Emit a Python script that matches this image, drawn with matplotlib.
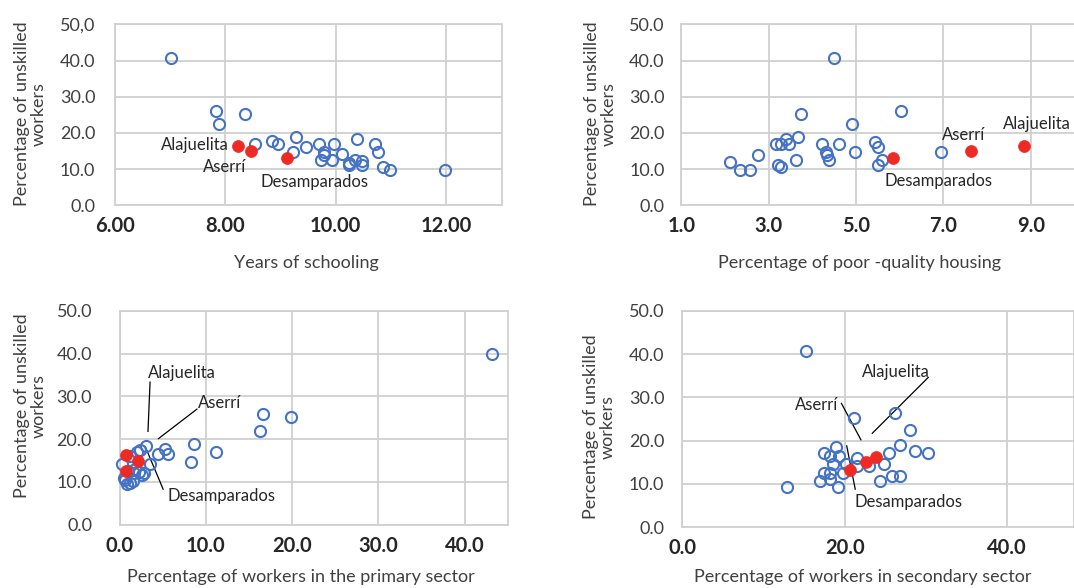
import matplotlib
matplotlib.use("Agg")
import matplotlib.pyplot as plt

# ---------------- data ----------------
# Panel 1: years of schooling
p1_x = [7.02, 7.84, 7.89, 8.36, 8.54, 8.85, 8.96, 9.23, 9.28, 9.46, 9.69, 9.78, 9.78, 9.74,
        9.93, 9.97, 10.11, 10.24, 10.34, 10.24, 10.39, 10.48, 10.48, 10.71, 10.76, 10.85, 10.98, 11.97]
p1_y = [40.8, 26.0, 22.5, 25.3, 16.9, 17.7, 16.9, 14.7, 19.0, 16.1, 16.9, 14.7, 14.0, 12.5,
        12.5, 16.9, 14.1, 11.6, 12.6, 11.1, 18.3, 12.1, 11.1, 16.9, 14.7, 10.5, 9.8, 9.8]
p1_red_x = [8.24, 8.47, 9.12]
p1_red_y = [16.5, 15.0, 13.0]

# Panel 2: poor-quality housing
p2_x = [2.11, 2.35, 2.57, 2.75, 3.16, 3.22, 3.28, 3.28, 3.39, 3.46, 3.62, 3.68, 3.74, 4.21,
        4.32, 4.33, 4.38, 4.50, 4.62, 4.90, 4.97, 5.44, 5.49, 5.49, 5.60, 6.02, 6.95]
p2_y = [11.9, 9.8, 9.8, 14.0, 16.8, 11.2, 10.5, 16.8, 18.2, 16.8, 12.5, 19.0, 25.3, 16.8,
        14.7, 14.0, 12.5, 40.8, 16.8, 22.5, 14.7, 17.6, 16.1, 11.2, 12.5, 26.0, 14.7]
p2_red_x = [8.84, 7.62, 5.85]
p2_red_y = [16.5, 15.0, 13.0]

# Panel 3: primary sector
p3_x = [0.2, 0.5, 0.6, 0.8, 1.2, 1.5, 1.0, 1.6, 2.2, 2.6, 1.8, 2.0, 2.4, 3.0, 1.2, 3.5,
        4.4, 5.3, 5.6, 8.3, 8.6, 11.2, 16.3, 16.6, 19.9, 43.2, 2.8]
p3_y = [14.2, 11.0, 10.4, 9.4, 9.8, 10.2, 12.5, 12.0, 12.3, 11.6, 13.0, 17.0, 17.4, 18.4, 16.0, 14.2,
        16.5, 17.8, 16.5, 14.6, 18.8, 17.0, 21.8, 25.8, 25.2, 40.0, 12.0]
p3_red_x = [0.72, 2.16, 0.72]
p3_red_y = [16.2, 14.9, 12.6]

# Panel 4: secondary sector
p4_x = [15.2, 12.9, 21.1, 26.2, 28.0, 26.8, 28.7, 30.3, 25.5, 24.9, 24.3, 25.8, 26.8, 23.0,
        21.5, 21.5, 17.4, 18.9, 19.3, 18.2, 18.6, 20.2, 19.8, 17.4, 18.2, 18.2, 17.0, 19.2]
p4_y = [40.6, 9.4, 25.3, 26.5, 22.4, 18.9, 17.7, 17.1, 17.1, 14.7, 10.7, 11.8, 11.8, 14.2,
        15.9, 14.2, 17.1, 18.5, 16.5, 16.5, 14.7, 14.7, 12.5, 12.5, 12.5, 11.2, 10.7, 9.4]
p4_red_x = [23.8, 22.6, 20.7]
p4_red_y = [16.3, 15.1, 13.2]

names = ["Alajuelita", "Aserrí", "Desamparados"]

y_ticks = [0, 10, 20, 30, 40, 50]
y_labels_p1 = ["0.0", "10.0", "20.0", "30.0", "40.0", "50,0"]
y_labels = ["0.0", "10.0", "20.0", "30.0", "40.0", "50.0"]

p1_xticks = [6, 8, 10, 12]
p1_xlabels = ["6.00", "8.00", "10.00", "12.00"]
p2_xticks = [1, 3, 5, 7, 9]
p2_xlabels = ["1.0", "3.0", "5.0", "7.0", "9.0"]
p3_xticks = [0, 10, 20, 30, 40]
p3_xlabels = ["0.0", "10.0", "20.0", "30.0", "40.0"]
p4_xticks = [0, 20, 40]
p4_xlabels = ["0.0", "20.0", "40.0"]

ylabel = "Percentage of unskilled\nworkers"
xlabels = ["Years of schooling", "Percentage of poor -quality housing",
           "Percentage of workers in the primary sector",
           "Percentage of workers in secondary sector"]

# ---------------- style ----------------
W, H = 1074, 588
plt.rcParams['font.family'] = ['Lato', 'DejaVu Sans']
BLUE = "#4472C4"
RED = "#EE2A24"
GRID = "#D0D0D0"
TXT = "#404040"
ANN = "#262626"

fig = plt.figure(figsize=(W / 100, H / 100), dpi=100)


def px_axes(left, top, right, bottom):
    return fig.add_axes([left / W, 1 - bottom / H, (right - left) / W, (bottom - top) / H])


def style(ax, xlim, xt, xl, yl, ypad):
    ax.set_xlim(*xlim)
    ax.set_ylim(0, 50)
    ax.set_xticks(xt)
    ax.set_xticklabels(xl, fontsize=14.5, fontweight='bold', color="#262626")
    ax.set_yticks(y_ticks)
    ax.set_yticklabels(yl, fontsize=13, color=TXT)
    ax.tick_params(axis='both', length=0)
    ax.tick_params(axis='y', pad=ypad)
    ax.tick_params(axis='x', pad=8)
    ax.grid(True, color=GRID, linewidth=1.3)
    ax.set_axisbelow(True)
    for s in ax.spines.values():
        s.set_color(GRID)
        s.set_linewidth(1.3)


def scatter(ax, bx, by, rx, ry):
    ax.plot(bx, by, 'o', ms=8.0, mfc='none', mec=BLUE, mew=1.5, clip_on=False, zorder=3)
    ax.plot(rx, ry, 'o', ms=8.6, mfc=RED, mec=RED, mew=0.5, clip_on=False, zorder=4)


ax1 = px_axes(114.7, 24.3, 501.5, 205.3)
style(ax1, (6, 13), p1_xticks, p1_xlabels, y_labels_p1, 14)
scatter(ax1, p1_x, p1_y, p1_red_x, p1_red_y)
ax1.text(8.07, 16.7, names[0], ha='right', va='center', fontsize=12, color=ANN)
ax1.text(7.98, 10.5, names[1], ha='center', va='center', fontsize=12, color=ANN)
ax1.text(9.61, 6.3, names[2], ha='center', va='center', fontsize=12, color=ANN)

ax2 = px_axes(681.3, 24.3, 1074.6, 205.3)
style(ax2, (1, 10), p2_xticks, p2_xlabels, y_labels, 12)
scatter(ax2, p2_x, p2_y, p2_red_x, p2_red_y)
ax2.text(9.13, 22.5, names[0], ha='center', va='center', fontsize=12, color=ANN)
ax2.text(7.46, 19.4, names[1], ha='center', va='center', fontsize=12, color=ANN)
ax2.text(6.88, 6.7, names[2], ha='center', va='center', fontsize=12, color=ANN)

ax3 = px_axes(119.8, 310.7, 507.6, 524.7)
style(ax3, (0, 45), p3_xticks, p3_xlabels, y_labels, 20)
scatter(ax3, p3_x, p3_y, p3_red_x, p3_red_y)
ax3.text(3.27, 35.5, names[0], ha='left', va='center', fontsize=12, color=ANN)
ax3.plot([3.51, 3.27], [33.3, 21.8], color='black', lw=0.9)
ax3.text(11.55, 28.4, names[1], ha='center', va='center', fontsize=12, color=ANN)
ax3.plot([8.95, 4.48], [27.0, 20.1], color='black', lw=0.9)
ax3.text(5.48, 6.7, names[2], ha='left', va='center', fontsize=12, color=ANN)
ax3.plot([5.03, 2.96], [8.3, 18.2], color='black', lw=0.9)

ax4 = px_axes(682.4, 310.7, 1073.5, 527.3)
style(ax4, (0, 48.2), p4_xticks, p4_xlabels, y_labels, 13)
scatter(ax4, p4_x, p4_y, p4_red_x, p4_red_y)
ax4.text(26.3, 35.9, names[0], ha='center', va='center', fontsize=12, color=ANN)
ax4.plot([30.3, 23.4], [34.6, 21.7], color='black', lw=0.9)
ax4.text(19.2, 28.2, names[1], ha='right', va='center', fontsize=12, color=ANN)
ax4.plot([19.6, 22.0], [28.6, 20.2], color='black', lw=0.9)
ax4.text(21.2, 5.9, names[2], ha='left', va='center', fontsize=12, color=ANN)
ax4.plot([20.25, 21.3], [18.8, 8.8], color='black', lw=0.9)

# axis labels (pixel positions)
def ftext(x, y, s, **kw):
    fig.text(x / W, 1 - y / H, s, **kw)

ylab_pos = [(30.5, 114), (600, 114), (30.5, 406), (599.5, 427)]
for (x, y) in ylab_pos:
    ftext(x, y, ylabel, rotation=90, ha='center', va='center', fontsize=13,
          color=TXT, linespacing=1.05, multialignment='center')

xlab_pos = [(306, 263), (859, 263), (301, 577), (863, 577)]
for (x, y), s in zip(xlab_pos, xlabels):
    ftext(x, y, s, ha='center', va='center', fontsize=13, color=TXT)

fig.savefig("out.png", dpi=100)
